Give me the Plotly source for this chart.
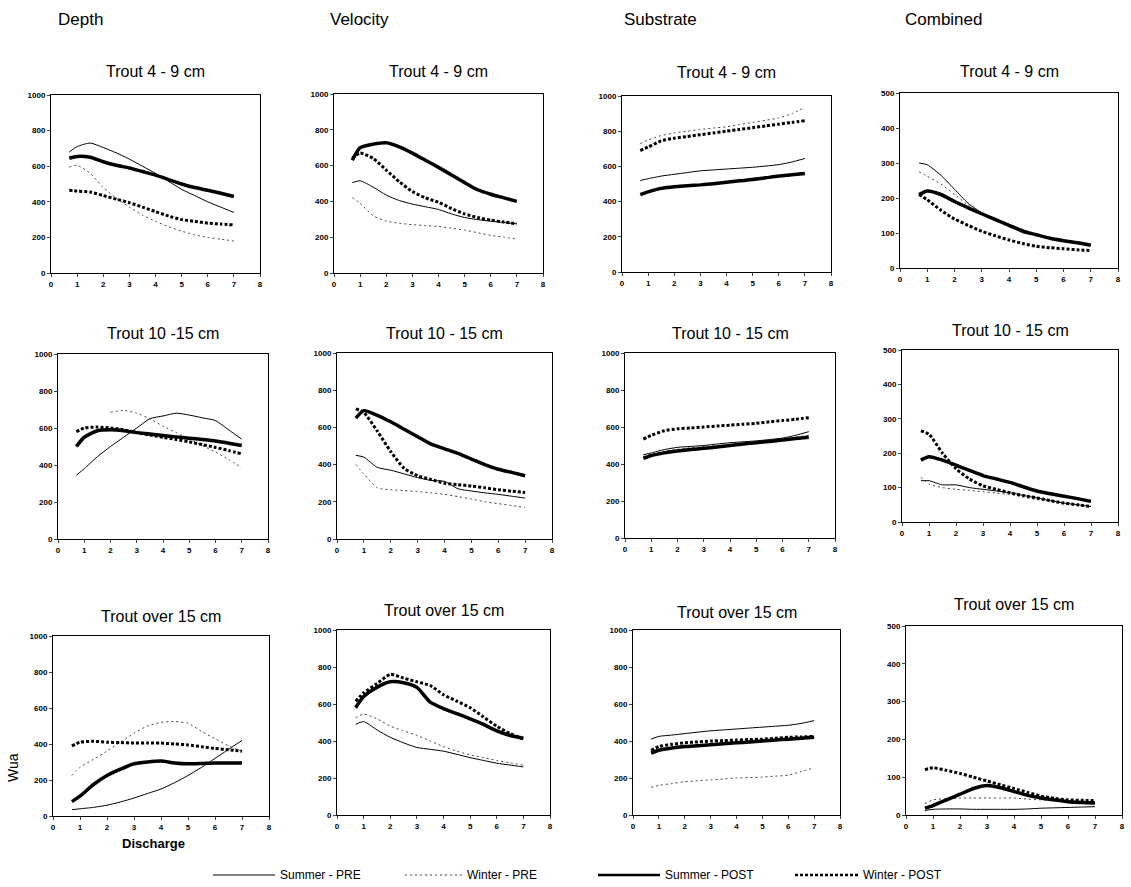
import plotly.graph_objects as go

W, H = 1131, 887

# ---------------- data ----------------
discharge = [0.7, 1, 1.5, 2, 2.5, 3, 3.5, 4, 4.5, 5, 5.5, 6, 6.5, 7]

column_titles = ["Depth", "Velocity", "Substrate", "Combined"]
panel_titles = [
    ["Trout 4 - 9 cm", "Trout 4 - 9 cm", "Trout 4 - 9 cm", "Trout 4 - 9 cm"],
    ["Trout 10 -15 cm", "Trout 10 - 15 cm", "Trout 10 - 15 cm", "Trout 10 - 15 cm"],
    ["Trout over 15 cm", "Trout over 15 cm", "Trout over 15 cm", "Trout over 15 cm"],
]
series_names = ["Summer - PRE", "Winter - PRE", "Summer - POST", "Winter - POST"]

# Row 1: Trout 4 - 9 cm
depth_r1_summer_pre = [680, 710, 730, 705, 675, 640, 600, 560, 515, 470, 435, 400, 370, 340]
depth_r1_winter_pre = [595, 605, 560, 480, 420, 370, 325, 290, 260, 235, 215, 200, 190, 180]
depth_r1_summer_post = [645, 655, 650, 625, 605, 590, 570, 550, 525, 500, 480, 465, 448, 430]
depth_r1_winter_post = [465, 460, 455, 435, 415, 395, 370, 345, 320, 300, 290, 280, 275, 270]

vel_r1_summer_pre = [505, 515, 480, 435, 405, 385, 370, 355, 330, 310, 298, 290, 282, 275]
vel_r1_winter_pre = [420, 390, 320, 290, 278, 270, 265, 260, 250, 240, 225, 210, 200, 190]
vel_r1_summer_post = [630, 700, 720, 728, 705, 670, 630, 590, 548, 505, 465, 440, 420, 400]
vel_r1_winter_post = [640, 670, 640, 575, 510, 455, 420, 395, 360, 330, 310, 295, 285, 275]

sub_r1_summer_pre = [520, 530, 545, 555, 565, 575, 580, 585, 590, 595, 602, 610, 625, 645]
sub_r1_winter_pre = [730, 750, 775, 790, 800, 810, 818, 825, 838, 850, 862, 875, 900, 935]
sub_r1_summer_post = [440, 455, 475, 485, 490, 495, 502, 510, 518, 525, 535, 545, 552, 560]
sub_r1_winter_post = [690, 710, 745, 760, 770, 780, 790, 800, 810, 820, 830, 840, 850, 860]

comb_r1_summer_pre = [300, 295, 265, 225, 185, 158, 142, 125, 110, 95, 86, 78, 72, 65]
comb_r1_winter_pre = [275, 262, 240, 210, 180, 155, 140, 124, 108, 94, 86, 78, 72, 66]
comb_r1_summer_post = [210, 220, 210, 190, 172, 155, 138, 122, 105, 95, 85, 78, 72, 65]
comb_r1_winter_post = [210, 195, 165, 140, 122, 105, 92, 80, 70, 62, 58, 55, 52, 50]

# Row 2: Trout 10 - 15 cm
depth_r2_summer_pre = [345, 380, 445, 500, 550, 600, 650, 665, 680, 670, 655, 640, 590, 540]
depth_r2_winter_pre = [None, None, None, 685, 695, 680, 650, 610, 575, 540, 505, 470, 430, 385]
depth_r2_summer_post = [500, 550, 585, 590, 585, 575, 568, 560, 552, 545, 538, 530, 518, 505]
depth_r2_winter_post = [580, 600, 605, 600, 590, 575, 562, 550, 538, 525, 510, 495, 478, 460]

vel_r2_summer_pre = [450, 440, 385, 370, 350, 330, 315, 310, 270, 258, 248, 240, 230, 220]
vel_r2_winter_pre = [400, 350, 275, 265, 260, 255, 248, 240, 228, 215, 200, 190, 180, 170]
vel_r2_summer_post = [650, 690, 665, 630, 590, 550, 510, 485, 460, 430, 400, 375, 358, 340]
vel_r2_winter_post = [700, 680, 580, 470, 380, 340, 320, 300, 292, 285, 275, 265, 257, 250]

sub_r2_summer_pre = [450, 460, 478, 490, 495, 500, 508, 515, 520, 525, 532, 540, 555, 575]
sub_r2_winter_pre = [440, 455, 470, 480, 488, 495, 500, 505, 512, 520, 528, 535, 545, 555]
sub_r2_summer_post = [430, 445, 460, 470, 478, 485, 492, 500, 508, 515, 522, 530, 538, 545]
sub_r2_winter_post = [535, 555, 580, 590, 595, 600, 605, 610, 615, 620, 628, 635, 642, 650]

comb_r2_summer_pre = [120, 120, 108, 108, 100, 95, 90, 85, 77, 70, 62, 55, 50, 45]
comb_r2_winter_pre = [130, 110, 100, 95, 92, 88, 84, 80, 72, 65, 60, 55, 50, 45]
comb_r2_summer_post = [180, 190, 180, 165, 150, 135, 125, 115, 102, 90, 82, 75, 68, 60]
comb_r2_winter_post = [265, 255, 200, 155, 125, 105, 95, 85, 77, 70, 62, 55, 50, 45]

# Row 3: Trout over 15 cm
depth_r3_summer_pre = [35, 40, 48, 60, 78, 100, 125, 150, 185, 225, 270, 320, 370, 420]
depth_r3_winter_pre = [225, 270, 315, 360, 410, 460, 500, 520, 525, 515, 470, 430, 390, 360]
depth_r3_summer_post = [80, 110, 175, 225, 260, 290, 300, 305, 295, 290, 292, 295, 295, 295]
depth_r3_winter_post = [390, 410, 415, 410, 408, 405, 405, 405, 400, 395, 385, 375, 368, 360]

vel_r3_summer_pre = [490, 505, 460, 420, 390, 365, 355, 345, 328, 310, 295, 280, 270, 260]
vel_r3_winter_pre = [525, 545, 520, 480, 455, 430, 400, 370, 345, 325, 310, 295, 282, 270]
vel_r3_summer_post = [580, 640, 690, 720, 715, 690, 610, 575, 548, 520, 490, 455, 430, 415]
vel_r3_winter_post = [615, 660, 710, 760, 740, 720, 700, 650, 615, 580, 530, 480, 440, 410]

sub_r3_summer_pre = [410, 425, 432, 440, 448, 455, 460, 465, 470, 475, 480, 485, 495, 510]
sub_r3_winter_pre = [150, 160, 170, 180, 185, 190, 195, 200, 202, 205, 210, 215, 235, 255]
sub_r3_summer_post = [335, 350, 362, 370, 375, 380, 385, 390, 395, 400, 405, 410, 415, 420]
sub_r3_winter_post = [350, 370, 382, 390, 395, 400, 402, 405, 408, 410, 415, 420, 422, 425]

comb_r3_summer_pre = [12, 15, 16, 16, 15, 15, 15, 15, 16, 18, 19, 20, 21, 22]
comb_r3_winter_pre = [30, 40, 43, 45, 45, 45, 45, 45, 42, 40, 37, 35, 32, 30]
comb_r3_summer_post = [18, 25, 40, 55, 70, 78, 72, 62, 52, 45, 40, 35, 33, 32]
comb_r3_winter_post = [120, 125, 118, 110, 100, 90, 80, 70, 60, 50, 44, 40, 39, 38]

x_ticks = [0, 1, 2, 3, 4, 5, 6, 7, 8]
y_ticks_wua = [0, 200, 400, 600, 800, 1000]
y_ticks_comb = [0, 100, 200, 300, 400, 500]

panels = [
    [
        [depth_r1_summer_pre, depth_r1_winter_pre, depth_r1_summer_post, depth_r1_winter_post],
        [vel_r1_summer_pre, vel_r1_winter_pre, vel_r1_summer_post, vel_r1_winter_post],
        [sub_r1_summer_pre, sub_r1_winter_pre, sub_r1_summer_post, sub_r1_winter_post],
        [comb_r1_summer_pre, comb_r1_winter_pre, comb_r1_summer_post, comb_r1_winter_post],
    ],
    [
        [depth_r2_summer_pre, depth_r2_winter_pre, depth_r2_summer_post, depth_r2_winter_post],
        [vel_r2_summer_pre, vel_r2_winter_pre, vel_r2_summer_post, vel_r2_winter_post],
        [sub_r2_summer_pre, sub_r2_winter_pre, sub_r2_summer_post, sub_r2_winter_post],
        [comb_r2_summer_pre, comb_r2_winter_pre, comb_r2_summer_post, comb_r2_winter_post],
    ],
    [
        [depth_r3_summer_pre, depth_r3_winter_pre, depth_r3_summer_post, depth_r3_winter_post],
        [vel_r3_summer_pre, vel_r3_winter_pre, vel_r3_summer_post, vel_r3_winter_post],
        [sub_r3_summer_pre, sub_r3_winter_pre, sub_r3_summer_post, sub_r3_winter_post],
        [comb_r3_summer_pre, comb_r3_winter_pre, comb_r3_summer_post, comb_r3_winter_post],
    ],
]

# ---------------- layout geometry (pixels: left, right, top, bottom) ----------------
boxes = [
    [(51, 260, 95, 273), (334, 543, 94, 273), (622, 831, 96, 272), (900, 1118, 93, 268)],
    [(58, 268, 354, 539), (337, 552, 353, 539), (625, 835, 353, 538), (902, 1118, 350, 522)],
    [(53, 269, 636, 816), (337, 550, 630, 815), (633, 840, 630, 815), (906, 1122, 626, 815)],
]
title_y = [
    [72, 72, 73, 72],
    [333, 333, 333, 330],
    [616, 610, 612, 604],
]

styles = [
    dict(color="black", width=1, dash="solid"),
    dict(color="#444444", width=1, dash="2px,3px"),
    dict(color="black", width=3.5, dash="solid"),
    dict(color="black", width=3, dash="3px,2px"),
]

FONT = "Liberation Sans, Arial, sans-serif"

fig = go.Figure()
layout = dict(
    width=W, height=H,
    margin=dict(l=0, r=0, t=0, b=0, autoexpand=False),
    paper_bgcolor="white", plot_bgcolor="white",
    showlegend=False,
    font=dict(family=FONT, color="black"),
)
annotations = []
shapes = []

idx = 0
for r in range(3):
    for c in range(4):
        idx += 1
        l, rr, t, b = boxes[r][c]
        xa = "xaxis" if idx == 1 else f"xaxis{idx}"
        ya = "yaxis" if idx == 1 else f"yaxis{idx}"
        xref = "x" if idx == 1 else f"x{idx}"
        yref = "y" if idx == 1 else f"y{idx}"
        comb = (c == 3)
        yt = y_ticks_comb if comb else y_ticks_wua
        layout[xa] = dict(
            domain=[l / W, rr / W], anchor=yref, range=[0, 8], automargin=False,
            tickvals=x_ticks, ticks="outside", ticklen=3, tickwidth=1,
            showline=True, mirror=True, linecolor="black", linewidth=1,
            showgrid=False, zeroline=False,
            tickfont=dict(family=FONT, size=8, weight="bold"),
        )
        layout[ya] = dict(
            domain=[1 - b / H, 1 - t / H], anchor=xref, range=[0, yt[-1]], automargin=False,
            tickvals=yt, ticks="outside", ticklen=3, tickwidth=1,
            showline=True, mirror=True, linecolor="black", linewidth=1,
            showgrid=False, zeroline=False,
            tickfont=dict(family=FONT, size=8, weight="bold"),
        )
        for s in range(4):
            fig.add_trace(go.Scatter(
                x=discharge, y=panels[r][c][s], mode="lines",
                name=series_names[s], line=dict(shape="spline", smoothing=0.6, **styles[s]),
                xaxis=xref, yaxis=yref, connectgaps=False, hoverinfo="skip",
            ))
        # panel title
        annotations.append(dict(
            text=panel_titles[r][c], xref="paper", yref="paper",
            x=(l + rr) / 2 / W, y=1 - title_y[r][c] / H, xanchor="center", yanchor="middle",
            showarrow=False, font=dict(family=FONT, size=16, color="black"),
        ))

# column titles
col_x = [80, 359, 660, 944]
for c in range(4):
    annotations.append(dict(
        text=column_titles[c], xref="paper", yref="paper",
        x=col_x[c] / W, y=1 - 20 / H, xanchor="center", yanchor="middle",
        showarrow=False, font=dict(family=FONT, size=17, color="black"),
    ))

# axis labels
annotations.append(dict(text="Wua", xref="paper", yref="paper", x=13 / W, y=1 - 768 / H,
                        textangle=-90, showarrow=False, xanchor="center", yanchor="middle",
                        font=dict(family=FONT, size=14, color="black")))
annotations.append(dict(text="Discharge", xref="paper", yref="paper", x=153 / W, y=1 - 843 / H,
                        showarrow=False, xanchor="center", yanchor="middle",
                        font=dict(family=FONT, size=13, color="black", weight="bold")))

# legend keys
legend_pos = [(213, 275), (405, 462), (598, 660), (795, 858)]
legend_y = 875
for s in range(4):
    x0, x1 = legend_pos[s]
    st = styles[s]
    shapes.append(dict(type="line", xref="paper", yref="paper",
                       x0=x0 / W, x1=x1 / W, y0=1 - legend_y / H, y1=1 - legend_y / H,
                       line=dict(color=st["color"], width=min(st["width"], 2.5) if s >= 2 else 1,
                                 dash=st["dash"])))
    annotations.append(dict(text=series_names[s], xref="paper", yref="paper",
                            x=(x1 + 3) / W, y=1 - legend_y / H, xanchor="left", yanchor="middle",
                            showarrow=False, font=dict(family=FONT, size=12, color="black")))

layout["annotations"] = annotations
layout["shapes"] = shapes
fig.update_layout(**layout)
fig.write_html(
    "out.html",
    config={"displayModeBar": False, "staticPlot": True},
    post_script="document.body.style.margin='0';document.body.style.padding='0';"
                "document.body.style.overflow='hidden';",
)
